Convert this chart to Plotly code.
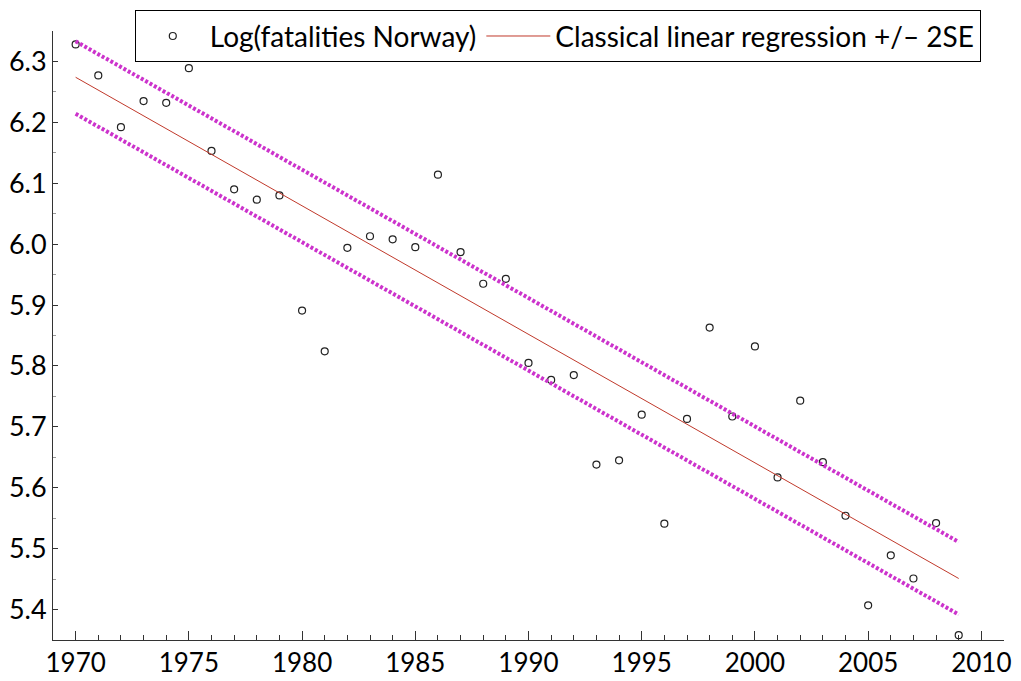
import plotly.graph_objects as go

years = list(range(1970, 2010))
log_fatalities = [6.328, 6.277, 6.192, 6.235, 6.232, 6.289, 6.153, 6.090, 6.073, 6.080,
                  5.891, 5.824, 5.994, 6.013, 6.008, 5.995, 6.114, 5.987, 5.935, 5.943,
                  5.805, 5.777, 5.785, 5.638, 5.645, 5.720, 5.541, 5.713, 5.863, 5.717,
                  5.832, 5.617, 5.743, 5.642, 5.554, 5.407, 5.489, 5.451, 5.542, 5.358]

fit_years = [1970, 2009]
fit_mean = [6.274, 5.451]
fit_upper = [6.333, 5.511]
fit_lower = [6.214, 5.392]

FONT = "Lato"
band_color = "#cc33cc"
fit_color = "#c0392b"

fig = go.Figure()
fig.add_trace(go.Scatter(
    x=years, y=log_fatalities, mode="markers", name="Log(fatalities Norway)",
    marker=dict(symbol="circle-open", size=7, color="#222222", line=dict(width=1.2)),
))
fig.add_trace(go.Scatter(
    x=fit_years, y=fit_mean, mode="lines", name="Classical linear regression +/\u2013 2SE",
    line=dict(color=fit_color, width=1),
))
fig.add_trace(go.Scatter(
    x=fit_years, y=fit_upper, mode="lines", showlegend=False,
    line=dict(color=band_color, width=4, dash="3px,2px"),
))
fig.add_trace(go.Scatter(
    x=fit_years, y=fit_lower, mode="lines", showlegend=False,
    line=dict(color=band_color, width=4, dash="3px,2px"),
))

fig.update_layout(
    width=1021, height=681,
    margin=dict(l=53, r=17, t=31, b=41, autoexpand=False),
    paper_bgcolor="white", plot_bgcolor="white",
    font=dict(family=FONT, size=27, color="black"),
    showlegend=True,
    legend=dict(
        orientation="h", x=0.086, xanchor="left", y=1.034, yanchor="top",
        bordercolor="black", borderwidth=1, bgcolor="white",
        font=dict(family=FONT, size=28, color="black"),
        itemwidth=64,
    ),
)
fig.update_xaxes(
    range=[1969, 2011], showline=True, linecolor="#333333", linewidth=1,
    showgrid=False, zeroline=False, automargin=False,
    tickmode="linear", tick0=1970, dtick=5, ticks="inside", ticklen=9,
    tickcolor="#333333",
    minor=dict(dtick=1, tick0=1970, ticks="inside", ticklen=5, tickcolor="#333333", showgrid=False),
    tickfont=dict(family=FONT, size=26),
)
fig.update_yaxes(
    range=[5.35, 6.35], showline=True, linecolor="#333333", linewidth=1,
    showgrid=False, zeroline=False, automargin=False,
    tickmode="linear", tick0=5.4, dtick=0.1, ticks="inside", ticklen=5,
    tickcolor="#333333", tickformat=".1f",
    minor=dict(dtick=0.05, tick0=5.35, ticks="inside", ticklen=3, tickcolor="#999999", showgrid=False),
    tickfont=dict(family=FONT, size=27),
)

fig.write_html("out.html")
